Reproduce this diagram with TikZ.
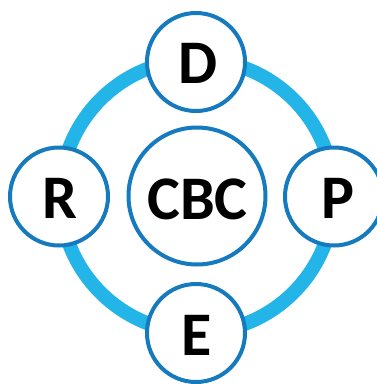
\documentclass[tikz,border=0pt]{standalone}
\usepackage{fontspec}
\setmainfont{Carlito}
\definecolor{ringc}{RGB}{35,180,232}
\definecolor{edgec}{RGB}{21,122,190}
\newcommand{\offtext}[3]{\hspace*{#1pt}\raisebox{-#2pt}[\height][0pt]{#3}}
\tikzset{px/.style={x=1pt,y=-1pt},
 disc/.style={circle,draw=edgec,line width=4pt,fill=white,minimum size=#1pt,inner sep=0pt,font=\bfseries\fontsize{62}{62}\selectfont,text=black}}
\begin{document}
\begin{tikzpicture}[px]
\useasboundingbox (0,0) rectangle (376,384);
\coordinate (c) at (197,196);
\draw[ringc,line width=14pt] (c) circle (136.5);
\node[disc=98] (d) at (196,62) {\offtext{4}{1}{D}};
\node[disc=98] (r) at (59,196.5) {\offtext{2}{2}{R}};
\node[disc=98] (p) at (334,196.5) {\offtext{8}{2}{P}};
\node[disc=98] (e) at (196,333) {\offtext{2}{2.5}{E}};
\node[disc=137] (m) at (197,196) {\offtext{1}{3}{CBC}};
\end{tikzpicture}
\end{document}
